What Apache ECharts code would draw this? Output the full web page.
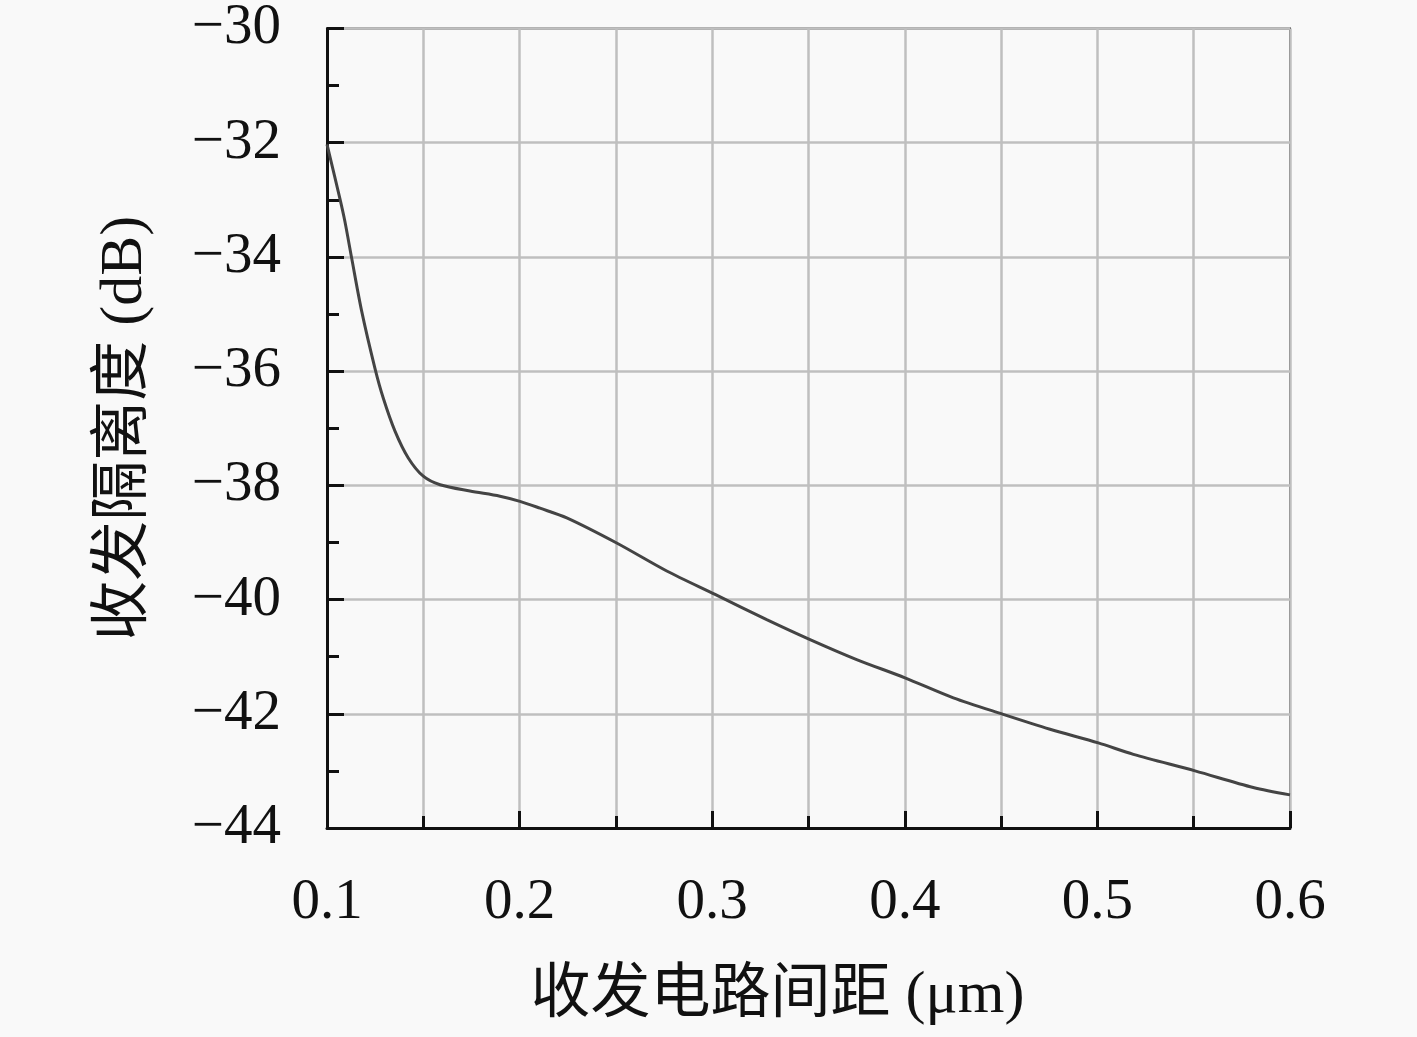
<!DOCTYPE html>
<html>
<head>
<meta charset="utf-8">
<script src="https://cdn.jsdelivr.net/npm/echarts@6/dist/echarts.min.js"></script>
<style>
html,body{margin:0;padding:0;background:#f9f9f9;}
#chart{width:1417px;height:1037px;}
</style>
</head>
<body>
<div id="chart"></div>
<script>
const xValues = [0.1, 0.1067, 0.1093, 0.1128, 0.118, 0.1249, 0.1292, 0.1353, 0.1422, 0.15, 0.1587, 0.1742, 0.1898, 0.2002, 0.2106, 0.2245, 0.2504, 0.2764, 0.3015, 0.3283, 0.3508, 0.375, 0.4001, 0.4252, 0.4511, 0.4754, 0.5005, 0.5187, 0.5507, 0.5809, 0.6];
const yValues = [-32.03, -32.98, -33.38, -34.02, -34.95, -35.95, -36.47, -37.05, -37.52, -37.84, -37.99, -38.1, -38.19, -38.28, -38.4, -38.57, -39.01, -39.5, -39.91, -40.35, -40.7, -41.05, -41.37, -41.72, -42.01, -42.27, -42.51, -42.71, -43.0, -43.29, -43.42];
const xAxisName = '收发电路间距 (μm)';
const yAxisName = '收发隔离度 (dB)';

const serif = '"Liberation Serif", "Noto Sans CJK SC", serif';
const chart = echarts.init(document.getElementById('chart'));
const gridLine = {show: true, lineStyle: {color: '#bfbfbf', width: 2.5}};
chart.setOption({
  backgroundColor: '#f9f9f9',
  animation: false,
  grid: {left: 327, right: 127, top: 27, bottom: 209, show: true, borderColor: '#333', borderWidth: 2, backgroundColor: '#f9f9f9'},
  xAxis: {
    type: 'value', min: 0.1, max: 0.6, interval: 0.1,
    name: xAxisName, nameLocation: 'middle', nameGap: 138,
    nameTextStyle: {fontFamily: serif, fontSize: 60, color: '#111', padding: [0, 62, 0, 0]},
    axisLine: {show: true, onZero: false, lineStyle: {color: '#111', width: 3}},
    axisTick: {show: true, inside: true, length: 17, lineStyle: {color: '#111', width: 3}},
    minorTick: {show: true, splitNumber: 2, length: 12, lineStyle: {color: '#111', width: 3}},
    splitLine: gridLine,
    minorSplitLine: gridLine,
    axisLabel: {fontFamily: serif, fontSize: 57, color: '#111', margin: 47, formatter: v => v.toFixed(1)}
  },
  yAxis: {
    type: 'value', min: -44, max: -30, interval: 2,
    name: yAxisName, nameLocation: 'middle', nameGap: 172, nameRotate: 90,
    nameTextStyle: {fontFamily: serif, fontSize: 60, color: '#111', padding: [0, 0, 0, 0]},
    axisLine: {show: true, onZero: false, lineStyle: {color: '#111', width: 3}},
    axisTick: {show: true, inside: true, length: 17, lineStyle: {color: '#111', width: 3}},
    minorTick: {show: true, splitNumber: 2, length: 12, lineStyle: {color: '#111', width: 3}},
    splitLine: gridLine,
    axisLabel: {fontFamily: serif, fontSize: 57, color: '#111', margin: 46, formatter: v => String(v).replace('-', '\u2212')}
  },
  series: [{
    type: 'line', smooth: 0.3, showSymbol: false,
    data: xValues.map((x, i) => [x, yValues[i]]),
    lineStyle: {color: '#444', width: 3}
  }]
});
</script>
</body>
</html>
